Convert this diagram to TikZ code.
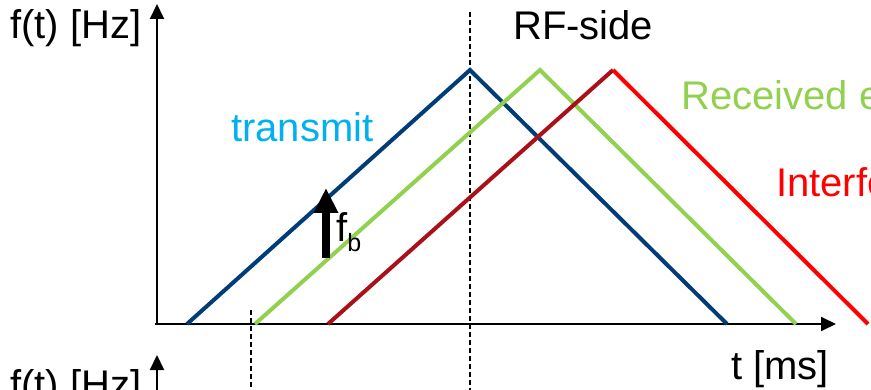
\documentclass[tikz,border=0pt]{standalone}
\usepackage{fontspec}
\setmainfont{Liberation Sans}
\usetikzlibrary{arrows.meta}
\definecolor{txblue}{RGB}{0,60,120}
\definecolor{rxgreen}{RGB}{146,208,80}
\definecolor{ifdark}{RGB}{170,16,24}
\definecolor{ifred}{RGB}{255,0,0}
\definecolor{lblcyan}{RGB}{0,176,240}

\begin{document}
\begin{tikzpicture}[x=1pt, y=-1pt, >={Triangle[length=15pt,width=14pt]},
  lbl/.style={anchor=base west, inner sep=0pt, font=\fontsize{40}{44}\selectfont},
  chirp/.style={line width=4pt},
  axis/.style={line width=2pt, ->},
  marker/.style={line width=1.5pt, dash pattern=on 5pt off 3pt}]
  \useasboundingbox (0,0) rectangle (871,390);
  \clip (0,0) rectangle (871,390);
  % axes
  \draw[axis] (155,324) -- (836,324);
  \draw[axis] (157,325) -- (157,4);
  \draw[axis] (157,420) -- (157,355);
  % time markers
  \draw[marker] (470,12) -- (470,390);
  \draw[marker] (251,310) -- (251,390);
  % chirps
  \draw[chirp, txblue] (187,324) -- (470,70) -- (727,324);
  \draw[chirp, rxgreen] (255,324) -- (540,70) -- (796,324);
  \draw[chirp, ifdark] (328,324) -- (613,70);
  \draw[chirp, ifred] (613,70) -- (868,324);
  % beat frequency
  \draw[line width=8pt, -{Triangle[length=25pt,width=23pt]}] (326,258) -- (326,188);
  \node[lbl] (fb) at (336,242) {f\raisebox{-10pt}{\fontsize{25}{25}\selectfont b}};
  % labels
  \node[lbl] (fhz) at (10,39) {f(t) [Hz]};
  \node[lbl] (fhz2) at (10,399) {f(t) [Hz]};
  \node[lbl] (tms) at (731,380) {t [ms]};
  \node[lbl] (rf) at (513,40) {RF-side};
  \node[lbl, lblcyan] (tx) at (231,142) {transmit};
  \node[lbl, rxgreen] (rx) at (681,110) {Received echo};
  \node[lbl, ifred] (intf) at (776,197) {Interference};
\end{tikzpicture}
\end{document}
